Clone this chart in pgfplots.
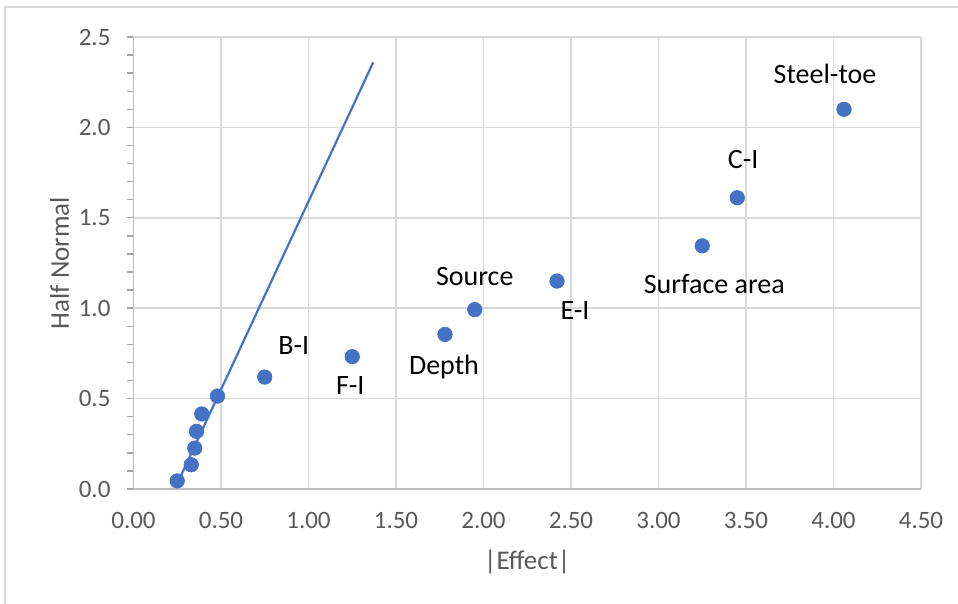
\documentclass[border=0pt]{standalone}
\usepackage{fontspec}
\setmainfont{Carlito}
\usepackage{pgfplots}
\pgfplotsset{compat=1.18}
\definecolor{xlblue}{HTML}{4472C4}
\definecolor{gridgray}{HTML}{D9D9D9}
\definecolor{axgray}{HTML}{BFBFBF}
\definecolor{tickgray}{HTML}{A6A6A6}
\definecolor{txtgray}{HTML}{595959}

\begin{document}
\begin{tikzpicture}
\useasboundingbox (-66.75pt,-57.5pt) rectangle (412.25pt,244.5pt);
\draw[gridgray,line width=0.8pt] (-64.25pt,-60pt) -- (-64.25pt,241pt) -- (415pt,241pt);
\begin{axis}[
  scale only axis,
  width=393.75pt,height=226pt,
  xmin=0,xmax=4.5,ymin=0,ymax=2.5,
  xtick={0,0.5,...,4.5},
  ytick={0,0.5,...,2.5},
  minor y tick num=4,
  axis line style={axgray,line width=0.8pt},
  axis x line*=bottom,
  axis y line*=left,
  tick align=outside,
  major tick length=3pt,
  minor tick length=3pt,
  xtick style={draw=none},
  ytick style={tickgray,line width=0.7pt},
  grid=major,
  grid style={gridgray,line width=0.8pt},
  /pgf/number format/assume math mode=true,
  xticklabel style={/pgf/number format/.cd,fixed,fixed zerofill,precision=2,/tikz/.cd,yshift=-5pt},
  yticklabel style={/pgf/number format/.cd,fixed,fixed zerofill,precision=1,/tikz/.cd,xshift=-5pt},
  ticklabel style={font=\fontsize{12.5}{14}\selectfont,text=txtgray},
  xlabel={|Effect|},
  ylabel={Half Normal},
  label style={font=\fontsize{13.5}{15}\selectfont,text=txtgray},
  xlabel style={yshift=-4pt},
  ylabel style={yshift=-2pt},
  clip=false
]
\addplot[xlblue,line width=1.1pt,no marks] coordinates {(0.25,0.03)(1.37,2.36)};
\addplot[only marks,mark=*,mark size=3.6pt,xlblue] coordinates {
(0.25,0.045)(0.33,0.134)(0.35,0.226)(0.36,0.319)(0.39,0.415)(0.48,0.514)
(0.75,0.619)(1.25,0.732)(1.78,0.855)(1.95,0.992)(2.42,1.150)(3.25,1.345)
(3.45,1.611)(4.06,2.100)
};
\begin{scope}[every node/.style={font=\fontsize{14}{16}\selectfont}]
\node at (axis cs:4.06,2.100) [xshift=-9.5pt,yshift=17.5pt] {Steel-toe};
\node at (axis cs:3.45,1.611) [xshift=3pt,yshift=19pt] {C-I};
\node at (axis cs:3.25,1.345) [xshift=6pt,yshift=-19pt] {Surface area};
\node at (axis cs:2.42,1.150) [xshift=9pt,yshift=-14.5pt] {E-I};
\node at (axis cs:1.95,0.992) [yshift=16.5pt] {Source};
\node at (axis cs:1.78,0.855) [xshift=-0.5pt,yshift=-16.5pt] {Depth};
\node at (axis cs:1.25,0.732) [xshift=-1pt,yshift=-14.5pt] {F-I};
\node at (axis cs:0.75,0.619) [xshift=14.5pt,yshift=16pt] {B-I};
\end{scope}
\end{axis}
\end{tikzpicture}
\end{document}
